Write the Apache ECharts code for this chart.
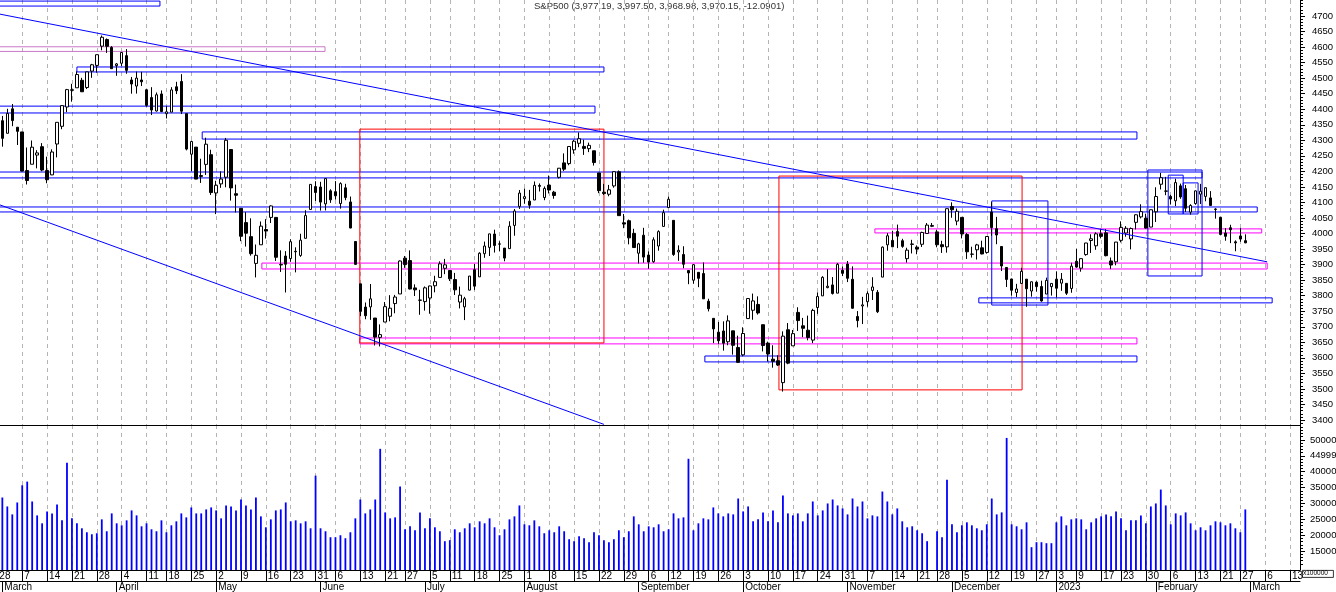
<!DOCTYPE html>
<html>
<head>
<meta charset="utf-8">
<script src="https://cdn.jsdelivr.net/npm/echarts/dist/echarts.min.js"></script>
<style>
html,body{margin:0;padding:0;background:#fff;}
#chart{width:1336px;height:592px;}
</style>
</head>
<body>
<div id="chart"></div>
<script>
// ---------- DATA ----------
const firstDay = '2022-02-28';
const slotCount = 263; // trading-day slots shown on the axis (incl. empty future days)
const holidays = ['2022-04-15','2022-05-30','2022-06-20','2022-07-04','2022-09-05','2022-11-24','2022-12-26','2023-01-02','2023-01-16','2023-02-20'];
const monthNames = ['January','February','March','April','May','June','July','August','September','October','November','December'];

const open = [
4354.17,
4363.14,4322.56,4401.31,4342.12,4327.01,4202.66,4223.10,4252.55,4279.50,4202.75,4188.82,4288.14,4345.11,4407.34,4462.40,4469.10,4493.10,4469.98,4522.66,4541.09,4602.86,4624.20,4599.02,
4540.32,4547.97,4572.45,4494.17,4474.65,4494.15,4462.64,4437.59,4394.30,4449.12,4385.63,4390.63,4472.26,4489.17,4385.83,4255.34,4278.14,4186.52,4222.58,4253.75,
4130.61,4159.78,4181.18,4270.43,4128.17,4081.27,4035.18,3990.08,3903.95,3963.90,4013.02,4052.00,4051.98,3899.00,3927.76,3919.42,3942.94,3929.59,3984.60,4077.43,4151.09,
4149.78,4095.41,4137.57,4134.72,4096.47,4147.12,4101.65,3974.39,3838.15,3763.52,3764.05,3728.18,3665.90,3715.31,3733.89,3774.71,3805.68,3920.76,3913.00,3825.09,3785.99,
3781.00,3792.61,3831.98,3858.85,3888.26,3880.94,3851.95,3779.67,3763.99,3818.00,3883.79,3860.73,3935.32,3955.47,3998.43,3965.72,3953.22,3951.43,4026.13,4087.33,
4112.38,4104.21,4107.96,4154.85,4115.87,4155.93,4133.11,4181.02,4227.40,4225.02,4269.37,4290.46,4280.40,4273.13,4266.31,4195.08,4133.09,4126.55,4153.26,4198.74,4034.58,4041.25,4000.67,
3936.73,3994.66,3930.89,3909.43,3959.94,4022.94,4083.67,4042.49,3940.73,3932.41,3880.95,3849.91,3875.23,3871.40,3782.36,3727.14,3682.72,3686.44,3651.94,3687.01,3633.48,
3609.78,3726.46,3753.25,3771.97,3706.74,3647.51,3595.86,3590.83,3520.37,3690.41,3638.65,3746.26,3703.11,3689.05,3657.10,3762.01,3799.44,3825.97,3834.69,3808.26,3881.85,
3901.79,3852.90,3733.25,3766.98,3780.71,3817.02,3810.94,3859.89,3963.72,3977.97,4006.41,3976.82,3919.26,3966.39,3956.23,3965.51,4000.30,4023.34,4005.36,3964.19,3957.18,
4087.14,4040.17,4052.02,3996.63,3933.28,3947.79,3954.17,3939.29,4069.38,4015.54,3958.37,3890.91,3853.79,3810.47,3839.49,3853.26,3815.11,3843.34,3829.56,3805.45,3829.06,
3853.29,3840.36,3839.74,3823.37,3910.82,3888.57,3932.35,3977.57,3960.60,3999.28,4002.25,3911.84,3909.04,3978.14,4001.74,3982.71,4036.08,4053.72,4049.27,4020.85,
4070.07,4158.68,4136.69,4119.57,4105.35,4153.47,4144.25,4068.92,4096.62,4126.70,4119.50,4114.75,4077.39,4052.35,4001.83,4018.60,3973.24,3992.36,3977.19
];
const high = [
4388.84,
4378.45,4401.48,4416.78,4342.12,4327.01,4276.94,4299.40,4268.28,4291.01,4247.57,4271.05,4357.86,4412.67,4465.40,4481.75,4522.00,4501.07,4520.58,4546.03,4575.65,4637.30,4627.77,4603.07,
4548.70,4583.50,4593.45,4503.94,4521.16,4520.41,4464.35,4471.00,4453.92,4460.46,4410.31,4471.03,4488.29,4512.94,4385.83,4299.02,4278.14,4240.71,4308.45,4269.68,
4169.81,4200.10,4307.66,4270.43,4157.69,4081.27,4068.82,4049.09,3964.80,4038.88,4046.46,4090.72,4051.98,3945.96,3943.42,3981.88,3955.68,3999.33,4075.14,4158.49,4168.34,
4166.54,4177.51,4142.67,4168.78,4164.86,4160.14,4119.10,3974.39,3838.15,3778.18,3837.56,3728.18,3707.71,3779.65,3801.79,3802.58,3913.65,3927.72,3945.86,3836.50,3818.99,
3829.82,3832.19,3864.13,3910.63,3918.50,3880.94,3873.41,3829.44,3796.41,3863.62,3902.44,3939.81,3974.13,3999.29,4012.44,3975.30,3953.22,4039.56,4078.95,4140.15,
4144.95,4140.47,4167.66,4161.29,4151.58,4186.62,4137.30,4211.03,4257.91,4280.47,4301.79,4325.28,4302.18,4292.53,4266.31,4195.08,4159.77,4156.56,4200.54,4203.04,4062.99,4044.98,4015.37,
3970.23,4018.43,3942.55,3987.89,4010.50,4076.81,4119.28,4042.49,3961.94,3959.14,3880.95,3900.45,3876.01,3907.07,3790.28,3727.14,3715.67,3717.53,3736.74,3687.01,3671.44,
3698.35,3791.92,3806.91,3797.93,3706.74,3652.17,3640.66,3608.34,3685.41,3712.00,3689.73,3762.79,3728.58,3736.00,3757.89,3810.74,3862.85,3886.15,3859.95,3905.42,3893.73,
3911.79,3894.44,3750.59,3796.34,3813.95,3859.40,3818.20,3958.33,4001.48,4008.97,4028.84,3983.09,3954.33,3979.89,3962.00,4005.88,4033.78,4034.02,4012.27,3976.77,4080.11,
4100.51,4080.48,4052.45,4001.51,3957.57,3966.85,3977.02,3990.71,4100.96,4053.76,3958.37,3890.91,3854.86,3838.24,3889.82,3853.26,3845.80,3846.65,3848.32,3858.19,3839.85,
3878.46,3873.16,3839.74,3906.19,3950.57,3919.83,3970.07,3997.76,4003.95,4015.39,4014.16,3922.94,3972.96,4039.31,4023.92,4019.55,4061.57,4094.21,4063.85,4077.16,
4148.95,4195.44,4182.36,4124.63,4176.54,4160.67,4156.23,4094.36,4138.90,4159.77,4148.11,4136.54,4081.51,4052.35,4017.37,4028.30,3978.25,4018.05,3997.50
];
const low = [
4315.12,
4279.54,4322.56,4345.56,4284.98,4199.85,4157.87,4223.10,4209.80,4200.49,4161.72,4187.90,4245.13,4335.65,4390.57,4424.30,4469.10,4455.81,4465.17,4501.07,4517.69,4589.66,4581.32,4530.41,
4507.57,4539.21,4514.17,4450.04,4450.30,4474.60,4408.38,4381.34,4392.70,4390.77,4370.30,4390.63,4448.76,4384.47,4267.62,4200.82,4175.04,4162.90,4188.63,4124.28,
4062.51,4147.08,4148.91,4106.01,4067.91,3975.48,3958.17,3928.82,3858.87,3963.90,3983.99,4033.93,3911.91,3876.58,3810.32,3909.04,3875.13,3925.03,3984.60,4077.43,4104.88,
4073.85,4074.37,4098.67,4109.18,4080.19,4107.20,4017.17,3900.16,3734.30,3724.29,3722.30,3639.77,3636.87,3715.31,3717.69,3743.52,3805.68,3889.66,3820.14,3799.02,3738.67,
3752.10,3742.06,3810.85,3858.85,3869.34,3847.22,3802.36,3759.07,3721.56,3817.18,3818.63,3860.73,3922.03,3927.64,3938.85,3943.46,3910.74,3951.43,3992.97,4079.22,
4096.02,4079.81,4107.96,4135.42,4107.31,4128.97,4112.09,4177.26,4201.41,4219.78,4256.90,4277.77,4253.08,4261.98,4218.70,4129.86,4124.03,4119.97,4147.59,4057.66,4017.42,3965.21,3954.53,
3903.65,3906.21,3886.75,3906.03,3944.81,4022.94,4083.67,3928.09,3912.19,3888.28,3837.08,3838.50,3827.54,3789.49,3749.45,3647.47,3644.76,3623.29,3640.61,3610.40,3584.13,
3604.93,3726.46,3722.66,3739.22,3620.73,3588.10,3568.45,3573.86,3491.58,3579.68,3638.65,3686.53,3666.51,3656.44,3647.42,3741.65,3799.44,3824.07,3803.79,3808.26,3863.18,
3843.80,3758.68,3698.15,3708.84,3764.70,3786.28,3744.22,3859.89,3944.82,3956.40,3953.17,3954.34,3906.54,3935.98,3933.34,3956.88,3998.66,4020.76,3955.77,3937.65,3938.58,
4050.87,4026.63,3984.49,3918.39,3922.68,3916.34,3933.04,3935.30,3993.03,3965.65,3879.45,3827.91,3800.04,3795.62,3839.49,3764.49,3797.01,3813.22,3780.78,3805.45,3800.34,
3794.33,3815.77,3802.42,3809.56,3890.42,3877.29,3928.54,3937.56,3947.67,3984.57,3926.59,3885.54,3897.86,3971.64,3989.79,3949.06,4013.29,4048.70,4015.55,4020.44,
4037.20,4141.88,4123.36,4093.38,4088.39,4111.86,4069.67,4060.79,4092.67,4095.01,4103.98,4089.69,4047.95,3995.19,3976.90,3969.19,3943.08,3973.55,3968.98
];
const close = [
4373.94,
4306.26,4386.54,4363.49,4328.87,4201.09,4170.70,4277.88,4259.52,4204.31,4173.11,4262.45,4357.86,4411.67,4463.12,4461.18,4511.61,4456.24,4520.16,4543.06,4575.52,4631.60,4602.45,4530.41,
4545.86,4582.64,4525.12,4481.15,4500.21,4488.28,4412.53,4397.45,4446.59,4392.59,4391.69,4462.21,4459.45,4393.66,4271.78,4296.12,4175.20,4183.96,4287.50,4131.93,
4155.38,4175.48,4300.17,4146.87,4123.34,3991.24,4001.05,3935.18,3930.08,4023.89,4008.01,4088.85,3923.68,3900.79,3901.36,3973.75,3941.48,3978.73,4057.84,4158.24,4132.15,
4101.23,4176.82,4108.54,4121.43,4160.68,4115.77,4017.82,3900.86,3749.63,3735.48,3789.99,3666.77,3674.84,3764.79,3759.89,3795.73,3911.74,3900.11,3821.55,3818.83,3785.38,
3825.33,3831.39,3845.08,3902.62,3899.38,3854.43,3818.80,3801.78,3790.38,3863.16,3830.85,3936.69,3959.90,3998.95,3961.63,3966.84,3921.05,4023.61,4072.43,4130.29,
4118.63,4091.19,4155.17,4151.94,4145.19,4140.06,4122.47,4210.24,4207.27,4280.15,4297.14,4305.20,4274.04,4283.74,4228.48,4137.99,4128.73,4140.77,4199.12,4057.66,4030.61,3986.16,3955.00,
3966.85,3924.26,3908.19,3979.87,4006.18,4067.36,4110.41,3932.69,3946.01,3901.35,3873.33,3899.89,3855.93,3789.93,3757.99,3693.23,3655.04,3647.29,3719.04,3640.47,3585.62,
3678.43,3790.93,3783.28,3744.52,3639.66,3612.39,3588.84,3577.03,3669.91,3583.07,3677.95,3719.98,3695.16,3665.78,3752.75,3797.34,3859.11,3830.60,3807.30,3901.06,3871.98,
3856.10,3759.69,3719.89,3770.55,3806.80,3828.11,3748.57,3956.37,3992.93,3957.25,3991.73,3958.79,3946.56,3965.34,3949.94,4003.58,4027.26,4026.12,3963.94,3957.63,4080.11,
4076.57,4071.70,3998.84,3941.26,3933.92,3963.51,3934.38,3990.56,4019.65,3995.32,3895.75,3852.36,3817.66,3821.62,3878.44,3822.39,3844.82,3829.25,3783.22,3849.28,3839.50,
3824.14,3852.97,3808.10,3895.08,3892.09,3919.25,3969.61,3983.17,3999.09,3990.97,3928.86,3898.85,3972.61,4019.81,4016.95,4016.22,4060.43,4070.56,4017.77,4076.60,
4119.21,4179.76,4136.48,4111.08,4164.00,4117.86,4081.50,4090.46,4137.29,4136.13,4147.60,4090.41,4079.09,3997.34,3991.05,4012.32,3970.04,3982.24,3970.15
];
// volume in units of 100000 shares
const volume = [
30000,
31875,29062,26562,30312,35729,36875,30625,26250,23750,27500,26875,29687,24687,42812,25312,23750,22187,20937,20312,20625,25000,21250,26875,
23750,23125,24687,27812,26250,22812,23750,21875,21250,24687,20937,23125,24375,26875,25625,28750,26875,26875,28125,28750,
27812,25312,29375,29062,27812,31250,29375,28125,31875,25937,22500,25000,27812,28125,30312,24375,24687,23750,24375,22187,38750,
22187,21250,19375,19375,20000,19062,20937,25312,31250,26875,28125,31250,47187,27187,25312,25625,35312,21875,22812,21562,27187,
22187,25312,22500,21250,18125,18437,21875,20937,22187,23750,22500,24375,23750,25312,22500,20000,21875,25000,25937,29375,
23437,23125,24687,22812,20625,21562,20937,22812,21250,18750,18125,19687,19062,17812,20937,20000,18437,17812,18750,21562,19375,21250,25937,
23437,21250,22812,22500,23437,21250,21875,26875,25312,25625,44062,21562,23750,25312,25000,28750,26875,25937,26875,26562,31562,
27500,29062,24375,25000,27187,24375,27812,24062,32500,26875,26250,26875,24375,26875,30625,26250,27812,30000,31250,29375,28437,
26562,31562,29062,30625,25312,26250,25937,33750,30625,26562,28437,24375,22500,22812,21562,20625,18125,null,21250,19375,37500,
23437,20937,23125,24062,23125,22187,21562,23437,31562,26562,27187,50625,23437,22812,21875,24062,16250,17812,17812,17500,17500,
24062,25937,23125,25000,25312,25000,21875,24062,25312,25937,26562,25937,27500,25312,21562,24687,24687,26250,23750,29062,
30000,34375,29375,23437,26875,26250,27187,23750,21562,22500,21562,23125,24375,24062,23125,23750,22187,20937,28125
];
const priceTicks = [3400,3450,3500,3550,3600,3650,3700,3750,3800,3850,3900,3950,4000,4050,4100,4150,4200,4250,4300,4350,4400,4450,4500,4550,4600,4650,4700];
const volumeTicks = [15000,20000,25000,30000,35000,40000,45000,50000];
const titleText = 'S&P500 (3,977.19, 3,997.50, 3,968.98, 3,970.15, -12.0901)';

// annotation zones: [slot from, price top, slot to, price bottom, colour]
const BLUE = '#0000ff', MAG = '#ff00ff', RED = '#ff0000', PINK = '#c878c8';
const zones = [
  [0, 4748, 32.7, 4732, BLUE],
  [0, 4601, 65.9, 4586, PINK],
  [16.0, 4536, 122.0, 4520, BLUE],
  [0, 4410, 120.2, 4388, BLUE],
  [41.2, 4327, 229.2, 4304, BLUE],
  [0, 4198, 242.3, 4179, BLUE],
  [0, 4085.5, 253.4, 4069.5, BLUE],
  [176.5, 4015, 254.3, 4002, MAG],
  [53.2, 3905, 255.4, 3886, MAG],
  [72.9, 3664, 229.2, 3645, MAG],
  [197.4, 3793, 256.4, 3777, BLUE],
  [142.3, 3606, 229.2, 3587, BLUE],
  [72.9, 4336, 122.0, 3648, RED],
  [157.2, 4185, 206.1, 3497, RED],
  [200.0, 4105, 211.3, 3770, BLUE],
  [231.4, 4204.5, 242.3, 3863.5, BLUE],
  [235.5, 4188, 238.5, 4063, BLUE],
  [238.5, 4163, 241.5, 4063, BLUE]
];
// trend lines: [slot, price, slot, price]
const trendLines = [
  [0.53, 4706, 255.4, 3909],
  [0.53, 4092, 122.0, 3386]
];

// ---------- BUILD ----------
const holidaySet = new Set(holidays);
const categories = [];
(function () {
  let d = new Date(firstDay + 'T00:00:00Z');
  while (categories.length < slotCount) {
    const s = d.toISOString().slice(0, 10);
    const wd = d.getUTCDay();
    if (wd !== 0 && wd !== 6 && !holidaySet.has(s)) categories.push(s);
    d = new Date(d.getTime() + 86400000);
  }
})();
const dObjs = categories.map(s => new Date(s + 'T00:00:00Z'));
const weekStart = dObjs.map((d, i) => i === 0 || d.getUTCDay() <= dObjs[i - 1].getUTCDay());
const monthStart = dObjs.map((d, i) => i > 0 && d.getUTCMonth() !== dObjs[i - 1].getUTCMonth());
const isWeek = (i) => weekStart[i];
const isMonth = (i) => monthStart[i];

const candleData = open.map((o, i) => [o, close[i], low[i], high[i]]);

const FONT = '"Liberation Sans", Arial, sans-serif';
const dash = { color: '#b4b4b4', type: [4, 4], width: 1 };
const GL = -2.63, GR = 36;
const plain = (v) => (v === 45000 ? '44999' : String(Math.round(v)));

const chart = echarts.init(document.getElementById('chart'), null, { renderer: 'canvas' });
chart.setOption({
  animation: false,
  backgroundColor: '#ffffff',
  textStyle: { fontFamily: FONT },
  grid: [
    { left: GL, right: GR, top: 0, height: 425, containLabel: false, outerBoundsMode: 'none' },
    { left: GL, right: GR, top: 425, height: 145, containLabel: false, outerBoundsMode: 'none' }
  ],
  xAxis: [
    { type: 'category', gridIndex: 0, data: categories, boundaryGap: false,
      axisLine: { show: true, onZero: false, lineStyle: { color: '#000', width: 1 } },
      axisTick: { show: false }, axisLabel: { show: false },
      splitLine: { show: true, interval: isWeek, lineStyle: dash } },
    { type: 'category', gridIndex: 1, data: categories, boundaryGap: false, position: 'bottom',
      axisLine: { show: true, onZero: false, lineStyle: { color: '#000', width: 1 } },
      axisTick: { show: true, interval: isWeek, length: 11, lineStyle: { color: '#000', width: 1 } },
      axisLabel: { show: true, interval: isWeek, align: 'left', margin: 1, padding: [0, 0, 0, 2],
        fontSize: 10, color: '#000', fontFamily: FONT,
        formatter: (v) => String(Number(v.slice(8, 10))) },
      splitLine: { show: true, interval: isWeek, lineStyle: dash } },
    { type: 'category', gridIndex: 1, data: categories, boundaryGap: false, position: 'bottom', offset: 11,
      axisLine: { show: true, onZero: false, lineStyle: { color: '#000', width: 1 } },
      axisTick: { show: true, interval: isMonth, length: 11, lineStyle: { color: '#000', width: 1 } },
      axisLabel: { show: true, interval: isMonth, align: 'left', margin: 1, padding: [0, 0, 0, 2],
        fontSize: 10, color: '#000', fontFamily: FONT,
        formatter: (v) => { const m = Number(v.slice(5, 7)) - 1; return m === 0 ? v.slice(0, 4) : monthNames[m]; } },
      splitLine: { show: false } },
    { type: 'value', gridIndex: 0, min: 0, max: slotCount - 1, show: false }
  ],
  yAxis: [
    { type: 'value', gridIndex: 0, position: 'right', min: 3384, max: 4751.5, scale: true,
      axisLine: { show: true, onZero: false, lineStyle: { color: '#000', width: 1 } },
      axisTick: { show: true, length: 5, customValues: priceTicks, lineStyle: { color: '#000' } },
      axisLabel: { show: true, customValues: priceTicks, margin: 12, fontSize: 9.5, color: '#000', fontFamily: FONT, formatter: plain },
      splitLine: { show: false } },
    { type: 'value', gridIndex: 0, position: 'right', min: 3384, max: 4751.5, scale: true,
      axisLine: { show: false, onZero: false },
      axisTick: { show: true, length: 3, customValues: priceTicks.flatMap(t => [t - 40, t - 30, t - 20, t - 10]).concat([4710, 4720, 4730, 4740, 4750]), lineStyle: { color: '#000' } },
      axisLabel: { show: false }, splitLine: { show: false } },
    { type: 'value', gridIndex: 1, position: 'right', min: 9062, max: 54690, scale: true,
      axisLine: { show: true, onZero: false, lineStyle: { color: '#000', width: 1 } },
      axisTick: { show: true, length: 5, customValues: volumeTicks, lineStyle: { color: '#000' } },
      axisLabel: { show: true, customValues: volumeTicks, margin: 10, fontSize: 9.5, color: '#000', fontFamily: FONT, formatter: plain },
      splitLine: { show: false } },
    { type: 'value', gridIndex: 1, position: 'right', min: 9062, max: 54690, scale: true,
      axisLine: { show: false, onZero: false },
      axisTick: { show: true, length: 3, customValues: volumeTicks.flatMap(t => [t - 4000, t - 3000, t - 2000, t - 1000]).concat([51000, 52000, 53000, 54000]), lineStyle: { color: '#000' } },
      axisLabel: { show: false }, splitLine: { show: false } }
  ],
  series: [
    { type: 'candlestick', name: 'S&P500', xAxisIndex: 0, yAxisIndex: 0, data: candleData,
      barWidth: 3, z: 3, silent: true,
      itemStyle: { color: '#ffffff', color0: '#000000', borderColor: '#000000', borderColor0: '#000000', borderColorDoji: '#000000', borderWidth: 1 } },
    { type: 'bar', name: 'Volume', xAxisIndex: 1, yAxisIndex: 2, data: volume, barWidth: 1.8, clip: true, silent: true,
      itemStyle: { color: '#0000ff' } },
    { type: 'line', name: 'drawings', xAxisIndex: 3, yAxisIndex: 0, data: [[0, 4000]], showSymbol: false, symbol: 'none',
      lineStyle: { opacity: 0 }, silent: true, z: 5,
      markArea: { silent: true, label: { show: false },
        itemStyle: { color: 'rgba(0,0,0,0)', borderWidth: 1 },
        data: zones.map(z => [
          { coord: [z[0], z[1]], itemStyle: { color: 'rgba(0,0,0,0)', borderColor: z[4], borderWidth: 1 } },
          { coord: [z[2], z[3]] }
        ]) },
      markLine: { silent: true, symbol: ['none', 'none'], label: { show: false },
        lineStyle: { color: BLUE, width: 1, type: 'solid' },
        data: trendLines.map(t => [{ coord: [t[0], t[1]] }, { coord: [t[2], t[3]] }]) } }
  ],
  graphic: [
    { type: 'text', left: 534, top: 1, silent: true,
      style: { text: titleText, fontSize: 9.5, fontFamily: FONT, fill: '#333' } },
    { type: 'rect', left: 1302, top: 570, silent: true, shape: { width: 31, height: 7 },
      style: { fill: '#fff', stroke: '#000', lineWidth: 0.8 } },
    { type: 'text', left: 1303, top: 570, silent: true,
      style: { text: 'x100000', fontSize: 6.5, fontFamily: FONT, fill: '#000' } }
  ]
});
</script>
</body>
</html>
